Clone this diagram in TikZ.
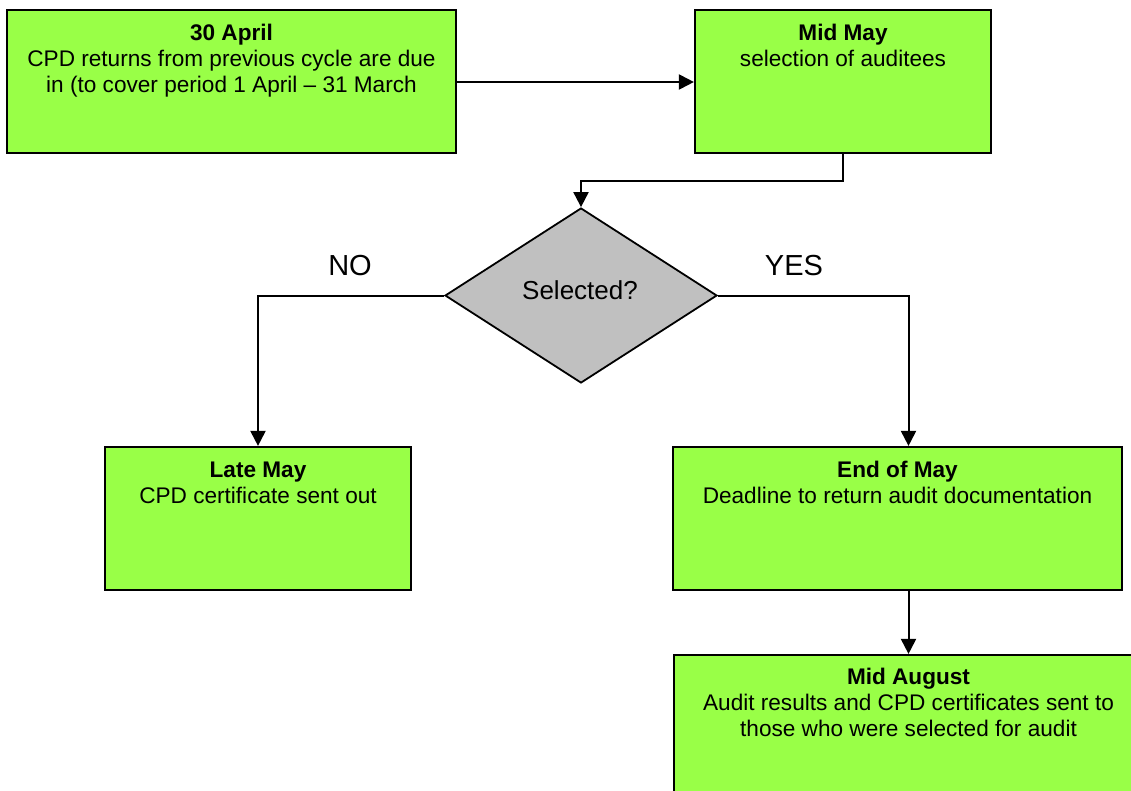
\documentclass[tikz,border=0pt]{standalone}
\usepackage{fontspec}
\setmainfont{Liberation Sans}
\usetikzlibrary{shapes.geometric,arrows.meta}
\definecolor{boxgreen}{RGB}{153,255,71}
\definecolor{diagray}{RGB}{192,192,192}
\tikzset{
  box/.style={draw=black, line width=2.2pt, fill=boxgreen, rectangle, inner sep=0pt},
  boxtext/.style={anchor=north, align=center, inner sep=0pt, font=\fontsize{22.6}{26}\selectfont},
  decision/.style={draw=black, line width=1.8pt, fill=diagray, diamond, inner sep=0pt, minimum width=272pt, minimum height=175pt, font=\fontsize{26}{30}\selectfont},
  lbl/.style={font=\fontsize{29}{33}\selectfont, inner sep=0pt, anchor=base},
  conn/.style={line width=2pt, draw=black},
  arr/.style={conn, -{Triangle[length=15pt,width=15pt]}}
}
\begin{document}
\begin{tikzpicture}[x=1pt,y=-1pt]
\useasboundingbox (0,0) rectangle (1131,790);
% boxes
\node[box, minimum width=449pt, minimum height=143pt] (b1) at (231.5,81.5) {};
\node[box, minimum width=296pt, minimum height=143pt] (b2) at (843,81.5) {};
\node[box, minimum width=306pt, minimum height=143pt] (b3) at (258,518.5) {};
\node[box, minimum width=449pt, minimum height=143pt] (b4) at (897.5,518.5) {};
\node[box, minimum width=469pt, minimum height=143pt] (b5) at (908.5,726.5) {};
\node[decision] (d) at (581,295.5) {};
\node[font=\fontsize{26}{30}\selectfont, inner sep=0pt, anchor=base] (dt) at (580,299) {Selected?};
% texts
\node[boxtext] (t1) at ([yshift=-15pt]b1.north) {\textbf{30 April}\\CPD returns from previous cycle are due\\in (to cover period 1 April -- 31 March};
\node[boxtext] (t2) at ([yshift=-15pt]b2.north) {\textbf{Mid May}\\selection of auditees};
\node[boxtext] (t3) at ([yshift=-15.5pt]b3.north) {\textbf{Late May}\\CPD certificate sent out};
\node[boxtext] (t4) at ([yshift=-15.5pt]b4.north) {\textbf{End of May}\\Deadline to return audit documentation};
\node[boxtext] (t5) at ([yshift=-14pt]b5.north) {\textbf{Mid August}\\Audit results and CPD certificates sent to\\those who were selected for audit};
% labels
\node[lbl] (no) at (350,275) {NO};
\node[lbl] (yes) at (794,275) {YES};
% connectors
\coordinate (c12) at (b1.east |- 0,82);
\draw[arr] (c12) -- (c12 -| b2.west);
\draw[arr] (b2.south) -- ++(0,27) -| (d.north);
\draw[arr] (d.west) -| (b3.north);
\coordinate (c4) at (b5.north |- b4.north);
\draw[arr] (d.east) -| (c4);
\draw[arr] (b5.north |- b4.south) -- (b5.north);
\end{tikzpicture}
\end{document}
